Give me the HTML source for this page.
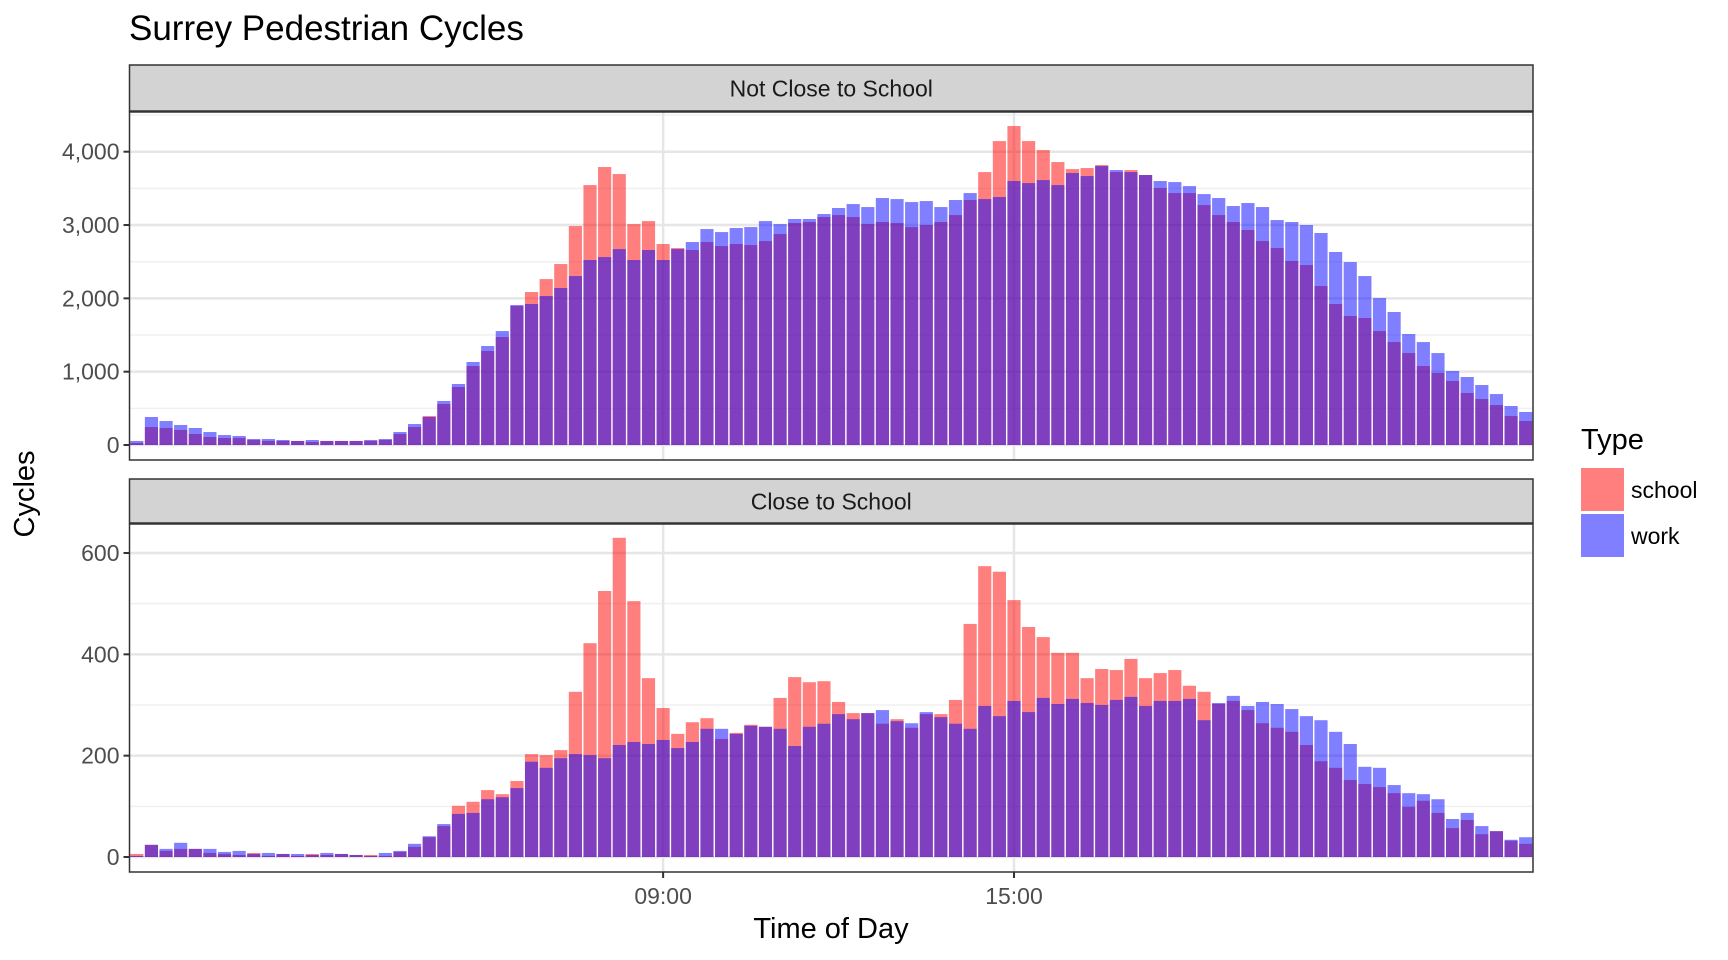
<!DOCTYPE html>
<html><head><meta charset="utf-8"><style>
html,body{margin:0;padding:0;background:#fff;}
svg{display:block;font-family:"Liberation Sans",Arial,sans-serif;}
</style></head><body>
<svg id="chart" width="1728" height="960" viewBox="0 0 1728 960" xmlns="http://www.w3.org/2000/svg">
<text x="129" y="40" font-size="35" fill="#000">Surrey Pedestrian Cycles</text>
<g id="g"></g>
<text x="831" y="938" font-size="29" text-anchor="middle" fill="#000">Time of Day</text>
<text transform="translate(34,494) rotate(-90)" font-size="29" text-anchor="middle" fill="#000">Cycles</text>
<g>
<text x="1581" y="449" font-size="29" fill="#000">Type</text>
<rect x="1581" y="468" width="43" height="43" fill="#ff0000" fill-opacity="0.5"/>
<text x="1631" y="498" font-size="23" fill="#000">school</text>
<rect x="1581" y="514" width="43" height="43" fill="#0000ff" fill-opacity="0.5"/>
<text x="1631" y="544" font-size="23" fill="#000">work</text>
</g>
</svg>
<script>
const slots = 96;
const xTickLabels = ["09:00","15:00"];
const xTickSlots = [36,60];
const topTicks = [0,1000,2000,3000,4000];
const topTickLabels = ["0","1,000","2,000","3,000","4,000"];
const botTicks = [0,200,400,600];
const botTickLabels = ["0","200","400","600"];
const notCloseSchool = [27,245,232,205,150,109,95,95,68,55,55,55,41,55,55,55,55,68,150,245,395,559,791,1077,1282,1473,1895,2086,2263,2468,2986,3545,3791,3695,3013,3054,2741,2686,2659,2768,2713,2741,2727,2781,2877,3027,3041,3109,3136,3109,3013,3041,3027,2972,3000,3041,3136,3341,3722,4145,4350,4145,4022,3859,3763,3777,3818,3722,3750,3682,3504,3436,3436,3272,3136,3041,2932,2781,2686,2509,2454,2168,1923,1759,1732,1554,1404,1254,1077,982,873,709,627,545,395,327];
const notCloseWork = [55,382,327,273,232,177,136,123,82,82,68,55,68,55,55,55,68,82,177,286,382,600,832,1132,1350,1554,1909,1923,2032,2141,2304,2523,2563,2672,2523,2659,2523,2672,2768,2945,2904,2959,2972,3054,3013,3082,3082,3150,3232,3286,3245,3368,3354,3313,3327,3245,3341,3436,3354,3382,3600,3572,3613,3545,3709,3668,3804,3750,3722,3682,3600,3586,3531,3422,3368,3259,3300,3245,3068,3041,3000,2891,2632,2495,2304,2004,1814,1514,1404,1254,1009,927,818,695,532,450];
const closeSchool = [6,24,12,16,16,8,6,4,8,2,6,2,6,4,6,4,4,2,10,20,39,61,101,109,132,124,150,203,201,211,326,422,525,630,505,353,294,243,266,274,233,245,261,257,314,355,345,347,306,284,284,263,272,255,282,282,310,460,574,563,507,454,434,403,403,353,371,369,391,353,363,369,338,326,302,308,290,264,255,247,221,189,176,152,144,138,126,99,111,87,57,73,45,51,32,26];
const closeWork = [2,24,16,28,16,16,10,12,6,8,6,6,4,8,6,4,2,8,12,26,41,65,85,87,114,118,136,188,176,195,203,201,195,221,227,223,231,215,227,253,253,243,259,257,253,219,257,263,282,272,284,290,268,264,286,276,263,253,298,278,308,286,314,302,312,304,300,310,316,298,308,308,312,270,304,318,298,306,302,292,278,270,247,223,178,176,142,126,124,114,75,87,61,51,34,39];

const NS="http://www.w3.org/2000/svg";
const g=document.getElementById('g');
const PX0=129.5, PX1=1533;
const slotW=(PX1-PX0)/slots;
function xScale(i){return PX0+(i+0.5)*slotW;}
function mk(tag,attrs,parent){const e=document.createElementNS(NS,tag);for(const k in attrs)e.setAttribute(k,attrs[k]);(parent||g).appendChild(e);return e;}

const panels=[
 {name:'not-close',label:'Not Close to School',top:112,bot:460,stripTop:65,y0:445,perUnit:(445-151.7)/4000,ticks:topTicks,labels:topTickLabels,minor:[500,1500,2500,3500,4500],school:notCloseSchool,work:notCloseWork},
 {name:'close',label:'Close to School',top:524,bot:872,stripTop:479,y0:857,perUnit:(857-553)/600,ticks:botTicks,labels:botTickLabels,minor:[100,300,500],school:closeSchool,work:closeWork}
];
panels.forEach(p=>{
  const yScale=v=>p.y0-v*p.perUnit;
  const pg=mk('g',{});
  
  
  const strip=mk('rect',{x:PX0,y:p.stripTop,width:PX1-PX0,height:p.top-p.stripTop-1,fill:'#d3d3d3',stroke:'#333',"stroke-width":1.5},pg);
  
  
  const st=mk('text',{x:(PX0+PX1)/2,y:(p.stripTop+p.top)/2+8,"font-size":23,"text-anchor":"middle",fill:'#1a1a1a'},pg);
  st.textContent=p.label;
  
  
  mk('rect',{x:PX0,y:p.top,width:PX1-PX0,height:p.bot-p.top,fill:'#fff'},pg);
  p.minor.forEach(v=>{const l=mk('line',{x1:PX0,x2:PX1,y1:yScale(v),y2:yScale(v),stroke:'#f0f0f0',"stroke-width":1.5},pg);
    
    });
  p.ticks.forEach((v,k)=>{const y=yScale(v);
    const l=mk('line',{x1:PX0,x2:PX1,y1:y,y2:y,stroke:'#e6e6e6',"stroke-width":2.5},pg);
    
    
    mk('line',{x1:PX0-6,x2:PX0,y1:y,y2:y,stroke:'#333',"stroke-width":2},pg);
    const t=mk('text',{x:PX0-10,y:y+8,"font-size":23,"text-anchor":"end",fill:'#4d4d4d'},pg);
    t.textContent=p.labels[k];
    
    });
  xTickSlots.forEach(s=>{const x=xScale(s);
    const l=mk('line',{x1:x,x2:x,y1:p.top,y2:p.bot,stroke:'#e6e6e6',"stroke-width":2.5},pg);
    
    });
  const bw=slotW*0.9;
  [['school',p.school,'#ff0000'],['work',p.work,'#0000ff']].forEach(([nm,arr,c])=>{
    arr.forEach((v,i)=>{const y=yScale(v);
      const r=mk('rect',{x:xScale(i)-bw/2,y:y,width:bw,height:p.y0-y,fill:c,"fill-opacity":0.5},pg);
      
      });
  });
  const b=mk('rect',{x:PX0,y:p.top,width:PX1-PX0,height:p.bot-p.top,fill:'none',stroke:'#333',"stroke-width":1.5},pg);
  
  
});
xTickSlots.forEach((s,k)=>{const x=xScale(s);
  mk('line',{x1:x,x2:x,y1:872,y2:878,stroke:'#333',"stroke-width":2});
  const t=mk('text',{x:x,y:904,"font-size":23,"text-anchor":"middle",fill:'#4d4d4d'});
  t.textContent=xTickLabels[k];
  
  });
</script>
</body></html>
